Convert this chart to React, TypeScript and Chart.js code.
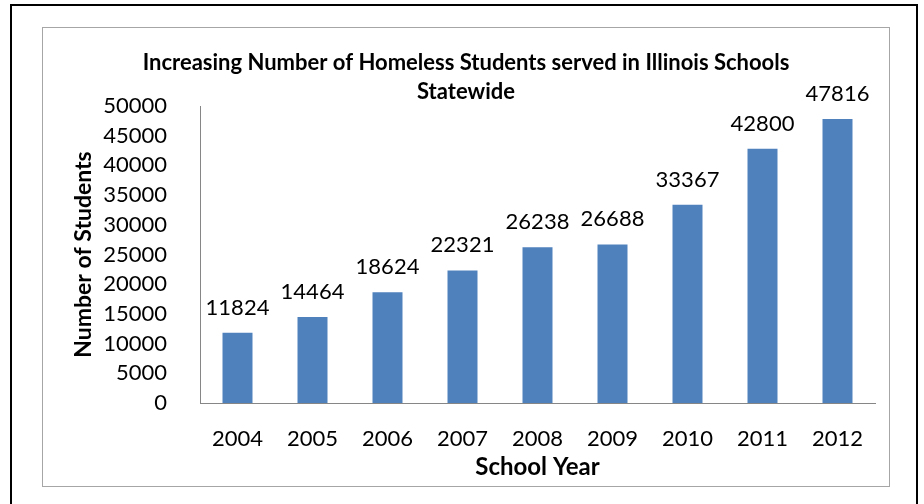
import React, { useEffect, useRef } from "react";
import { Chart, registerables } from "chart.js";

Chart.register(...registerables);

const years = ["2004", "2005", "2006", "2007", "2008", "2009", "2010", "2011", "2012"];
const students = [11824, 14464, 18624, 22321, 26238, 26688, 33367, 42800, 47816];
const titleLines = ["Increasing Number of Homeless Students served in Illinois Schools", "Statewide"];
const yTitle = "Number of Students";
const xTitle = "School Year";

const FONT = "Lato, 'Noto Sans', sans-serif";

const framePlugin = {
  id: "frame",
  beforeDraw(chart: any) {
    const ctx = chart.ctx;
    ctx.save();
    ctx.fillStyle = "#ffffff";
    ctx.fillRect(0, 0, chart.width, chart.height);
    ctx.strokeStyle = "#000000";
    ctx.lineWidth = 2;
    ctx.strokeRect(11, 5, 906, 520);
    ctx.strokeStyle = "#a6a6a6";
    ctx.lineWidth = 1;
    ctx.strokeRect(42.5, 27.5, 847, 459);
    ctx.restore();
  },
};

const labelPlugin = {
  id: "barLabels",
  afterDatasetsDraw(chart: any) {
    const ctx = chart.ctx;
    const meta = chart.getDatasetMeta(0);
    const data = chart.data.datasets[0].data;
    ctx.save();
    ctx.font = `22px ${FONT}`;
    ctx.fillStyle = "#000000";
    ctx.textAlign = "center";
    ctx.textBaseline = "alphabetic";
    meta.data.forEach((bar: any, i: number) => {
      ctx.fillText(String(data[i]), bar.x, bar.y - 18);
    });
    ctx.restore();
  },
};

export default function App() {
  const ref = useRef<HTMLCanvasElement | null>(null);
  useEffect(() => {
    if (!ref.current) return;
    const chart = new Chart(ref.current, {
      type: "bar",
      data: {
        labels: years,
        datasets: [
          {
            data: students,
            backgroundColor: "#4F81BD",
            barPercentage: 0.4,
            categoryPercentage: 1,
          },
        ],
      },
      options: {
        responsive: false,
        animation: false,
        devicePixelRatio: 1,
        layout: { padding: { left: 57, right: 49, top: 27, bottom: 20 } },
        plugins: {
          legend: { display: false },
          tooltip: { enabled: false },
          title: {
            display: true,
            text: titleLines,
            color: "#000000",
            font: { family: FONT, size: 22, weight: "bold", lineHeight: "29px" },
            padding: { top: 21, bottom: 0 },
          },
        },
        scales: {
          x: {
            grid: { display: false },
            border: { display: true, color: "#868686" },
            ticks: { color: "#000000", font: { family: FONT, size: 22 }, padding: 15 },
            title: {
              display: true,
              text: xTitle,
              color: "#000000",
              font: { family: FONT, size: 24, weight: "bold" },
              padding: { top: 0, bottom: 2.6 },
            },
            afterFit(scale: any) {
              scale.height = 81;
            },
          },
          y: {
            min: 0,
            max: 50000,
            grid: { display: false },
            border: { display: true, color: "#868686" },
            ticks: {
              stepSize: 5000,
              color: "#000000",
              font: { family: FONT, size: 22 },
              padding: 25,
              callback: (v: any) => String(v),
            },
            title: {
              display: true,
              text: yTitle,
              color: "#000000",
              font: { family: FONT, size: 23, weight: "bold" },
              padding: { top: 13, bottom: 0 },
            },
            afterFit(scale: any) {
              scale.width = 143;
            },
          },
        },
      },
      plugins: [framePlugin, labelPlugin],
    });
    return () => chart.destroy();
  }, []);
  return (
    <div style={{ position: "absolute", left: 0, top: 0, width: 924, height: 504 }}>
      <canvas ref={ref} width={924} height={504} />
    </div>
  );
}
